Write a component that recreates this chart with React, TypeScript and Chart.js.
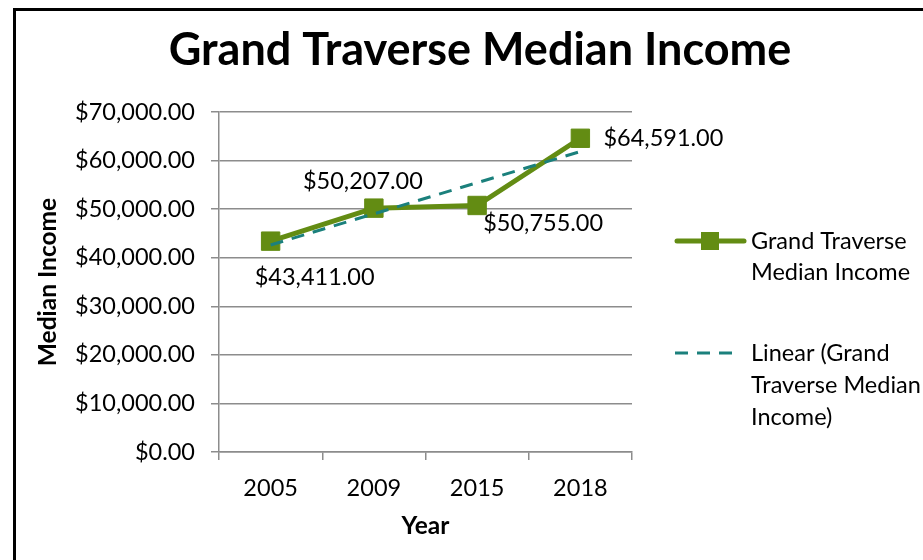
import React, { useEffect, useRef } from "react";
import { Chart, registerables } from "chart.js";

Chart.register(...registerables);

const chartTitle = "Grand Traverse Median Income";
const years = ["2005", "2009", "2015", "2018"];
const incomeValues = [43411, 50207, 50755, 64591];
const trendValues = [42628, 49037, 55446, 61854];
const yTickValues = [0, 10000, 20000, 30000, 40000, 50000, 60000, 70000];
const yAxisTitle = "Median Income";
const xAxisTitle = "Year";
const seriesLegendLines = ["Grand Traverse", "Median Income"];
const trendLegendLines = ["Linear (Grand", "Traverse Median", "Income)"];

const FONT = "Lato, 'Open Sans', sans-serif";
const GREEN = "#638c13";
const TEAL = "#1b807c";
const GRID = "#8c8c8c";
const TXT = 23.5;

const money = (v: number) =>
  "$" + v.toLocaleString("en-US", { minimumFractionDigits: 2, maximumFractionDigits: 2 });

const labelOffsets = [
  { dx: 44, dy: 36 },
  { dx: -11, dy: -27 },
  { dx: 66, dy: 18 },
  { dx: 83, dy: 0 },
];

const overlayPlugin = {
  id: "overlay",
  afterDatasetsDraw(chart: any) {
    const ctx = chart.ctx;
    const meta = chart.getDatasetMeta(1);
    ctx.save();
    ctx.font = `${TXT}px ${FONT}`;
    ctx.fillStyle = "#000";
    ctx.textAlign = "center";
    ctx.textBaseline = "middle";
    meta.data.forEach((pt: any, i: number) => {
      const o = labelOffsets[i];
      ctx.fillText(money(incomeValues[i]), pt.x + o.dx, pt.y + o.dy);
    });
    ctx.restore();
  },
  afterDraw(chart: any) {
    const ctx = chart.ctx;
    ctx.save();
    // title
    ctx.fillStyle = "#000";
    ctx.font = `bold 45px ${FONT}`;
    ctx.textAlign = "center";
    ctx.textBaseline = "middle";
    ctx.fillText(chartTitle, 480, 50);
    // series legend
    ctx.strokeStyle = GREEN;
    ctx.lineWidth = 5;
    ctx.lineCap = "round";
    ctx.beginPath();
    ctx.moveTo(677, 241);
    ctx.lineTo(744, 241);
    ctx.stroke();
    ctx.fillStyle = GREEN;
    ctx.fillRect(701, 232, 18, 18);
    // trend legend
    ctx.strokeStyle = TEAL;
    ctx.lineWidth = 3;
    ctx.lineCap = "butt";
    ctx.setLineDash([13, 9]);
    ctx.beginPath();
    ctx.moveTo(675, 353);
    ctx.lineTo(733, 353);
    ctx.stroke();
    ctx.setLineDash([]);
    ctx.fillStyle = "#000";
    ctx.font = `${TXT}px ${FONT}`;
    ctx.textAlign = "left";
    ctx.textBaseline = "middle";
    seriesLegendLines.forEach((t, i) => ctx.fillText(t, 751, 241 + i * 31));
    trendLegendLines.forEach((t, i) => ctx.fillText(t, 751, 353 + i * 32));
    ctx.restore();
  },
};

export default function App() {
  const ref = useRef<HTMLCanvasElement | null>(null);
  useEffect(() => {
    if (!ref.current) return;
    const chart = new Chart(ref.current, {
      type: "line",
      data: {
        labels: years,
        datasets: [
          {
            label: "Linear",
            data: trendValues,
            borderColor: TEAL,
            borderWidth: 3,
            borderDash: [13, 9],
            pointRadius: 0,
            fill: false,
            order: 0,
          },
          {
            label: chartTitle,
            data: incomeValues,
            borderColor: GREEN,
            backgroundColor: GREEN,
            borderWidth: 5,
            pointStyle: "rect",
            pointRadius: 13,
            pointBorderWidth: 1,
            pointBorderColor: GREEN,
            pointBackgroundColor: GREEN,
            fill: false,
            order: 1,
          },
        ],
      },
      plugins: [overlayPlugin],
      options: {
        responsive: false,
        animation: false,
        layout: { padding: { left: 33, right: 291, top: 112, bottom: 0 } },
        plugins: {
          legend: { display: false },
          tooltip: { enabled: false },
          title: { display: false },
        },
        scales: {
          x: {
            offset: true,
            grid: {
              display: true,
              drawOnChartArea: false,
              offset: true,
              color: GRID,
              lineWidth: 1.5,
              tickLength: 8,
            },
            border: { color: GRID, width: 1.5 },
            ticks: { color: "#000", font: { family: FONT, size: TXT }, padding: 14 },
            title: {
              display: true,
              text: xAxisTitle,
              color: "#000",
              font: { family: FONT, size: 24.5, weight: "bold" },
              padding: { top: 0, bottom: 19 },
            },
            afterFit: (s: any) => {
              s.height = 108;
            },
          },
          y: {
            min: 0,
            max: 70000,
            afterBuildTicks: (s: any) => {
              s.ticks = yTickValues.map((v) => ({ value: v }));
            },
            grid: { color: GRID, lineWidth: 1.5, tickLength: 8 },
            border: { color: GRID, width: 1.5 },
            ticks: {
              color: "#000",
              font: { family: FONT, size: TXT },
              padding: 16,
              callback: (v: any) => money(Number(v)),
            },
            title: {
              display: true,
              text: yAxisTitle,
              color: "#000",
              font: { family: FONT, size: 24.5, weight: "bold" },
              padding: { top: 0, bottom: 0 },
            },
            afterFit: (s: any) => {
              s.width = 219 - 33;
            },
          },
        },
      },
    });
    return () => chart.destroy();
  }, []);
  return (
    <div style={{ position: "fixed", left: 0, top: 0, width: 923, height: 560, background: "#fff", overflow: "hidden" }}>
      <canvas ref={ref} width={923} height={560} style={{ position: "absolute", left: 0, top: 0 }} />
      <div
        style={{
          position: "absolute",
          left: 13,
          top: 8,
          width: 1000,
          height: 1000,
          border: "3px solid #000",
          pointerEvents: "none",
        }}
      />
    </div>
  );
}
